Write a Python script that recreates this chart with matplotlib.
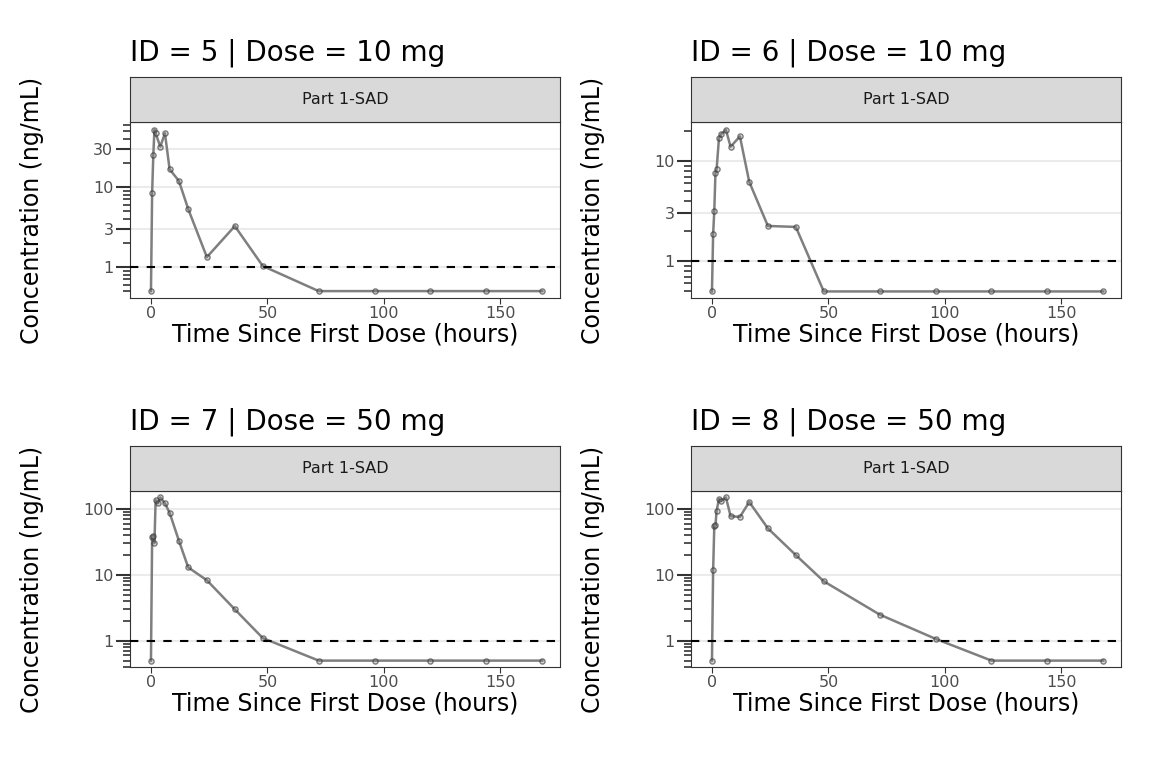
import matplotlib
matplotlib.use("Agg")
import matplotlib.pyplot as plt
from matplotlib.ticker import FixedLocator, NullFormatter
import numpy as np

titles = ["ID = 5 | Dose = 10 mg", "ID = 6 | Dose = 10 mg", "ID = 7 | Dose = 50 mg", "ID = 8 | Dose = 50 mg"]
strip = "Part 1-SAD"
tail_t = [72, 96, 120, 144, 168]
t5 = [0, 0.5, 1, 1.5, 2, 4, 6, 8, 12, 16, 24, 36, 48] + tail_t
c5 = [0.5, 8.4, 25, 52, 47, 32, 47, 16.7, 11.9, 5.3, 1.33, 3.25, 1.03, 0.5, 0.5, 0.5, 0.5, 0.5]
t6 = [0, 0.5, 1, 1.5, 2, 3, 4, 6, 8, 12, 16, 24, 36, 48] + tail_t
c6 = [0.5, 1.86, 3.2, 7.6, 8.3, 16.8, 18.6, 20.4, 13.9, 17.6, 6.2, 2.25, 2.2, 0.5, 0.5, 0.5, 0.5, 0.5, 0.5]
t7 = [0, 0.5, 1, 1.5, 2, 3, 4, 6, 8, 12, 16, 24, 36, 48] + tail_t
c7 = [0.5, 37, 39, 30.5, 137, 122, 150, 122, 88, 33, 13, 8.3, 3.0, 1.1, 0.5, 0.5, 0.5, 0.5, 0.5]
t8 = [0, 0.5, 1, 1.5, 2, 3, 4, 6, 8, 12, 16, 24, 36, 48] + tail_t
c8 = [0.5, 11.7, 55, 57, 94, 142, 133, 150, 78, 76, 128, 51, 20, 8.0, 2.5, 1.07, 0.5, 0.5, 0.5]
series = [(t5, c5), (t6, c6), (t7, c7), (t8, c8)]
yticks = [[1, 3, 10, 30], [1, 3, 10], [1, 10, 100], [1, 10, 100]]
ylims = [(0.41, 65), (0.43, 24.5), (0.4, 188), (0.4, 188)]
lloq = 1

W, H = 1152, 768
fig = plt.figure(figsize=(W/100, H/100), dpi=100)
lefts = [130, 691]
tops = [122, 491]
pw, ph = 430, 176
sh = 45
for i, (t, c) in enumerate(series):
    col, row = i % 2, i // 2
    l, tp = lefts[col], tops[row]
    ax = fig.add_axes([l/W, 1-(tp+ph)/H, pw/W, ph/H])
    sax = fig.add_axes([l/W, 1-tp/H, pw/W, sh/H])
    sax.set_facecolor("#d9d9d9")
    sax.set_xticks([]); sax.set_yticks([])
    for s in sax.spines.values():
        s.set_color("#333333"); s.set_linewidth(0.8)
    sax.text(0.5, 0.5, strip, ha="center", va="center", fontsize=11.5, color="#1a1a1a", transform=sax.transAxes)
    sax.set_title(titles[i], loc="left", fontsize=20, pad=12, x=0.0)
    ax.set_yscale("log")
    ax.plot(t, c, color="#7f7f7f", lw=1.8, zorder=3)
    ax.scatter(t, c, s=14, facecolors=(0.5, 0.5, 0.5, 0.3), edgecolors=(0.2, 0.2, 0.2, 0.6), linewidths=1, zorder=4)
    ax.axhline(lloq, color="black", ls=(0, (4, 4)), lw=1.5, zorder=5)
    ax.set_ylim(*ylims[i])
    ax.set_xlim(-9, 175.6)
    ax.set_xticks([0, 50, 100, 150])
    ax.yaxis.set_major_locator(FixedLocator(yticks[i]))
    ax.set_yticklabels([str(v) for v in yticks[i]])
    minors = [m*10**e for e in range(-1, 3) for m in range(2, 10)]
    ax.yaxis.set_minor_locator(FixedLocator(minors))
    ax.yaxis.set_minor_formatter(NullFormatter())
    ax.grid(axis="y", which="major", color="#ebebeb", lw=1.5, zorder=0)
    ax.tick_params(axis="both", which="major", labelsize=11.5, labelcolor="#4d4d4d", color="#333333", length=4, pad=2)
    ax.tick_params(axis="y", which="major", length=10, width=1.5)
    ax.tick_params(axis="y", which="minor", length=5, width=1.2, color="#333333")
    for s in ax.spines.values():
        s.set_color("#333333"); s.set_linewidth(0.8)
    ax.set_xlabel("Time Since First Dose (hours)", fontsize=17, labelpad=1)
    ax.set_ylabel("Concentration (ng/mL)", fontsize=17)
    ax.yaxis.set_label_coords(-0.2, 0.5)
fig.savefig("out.png", dpi=100)
